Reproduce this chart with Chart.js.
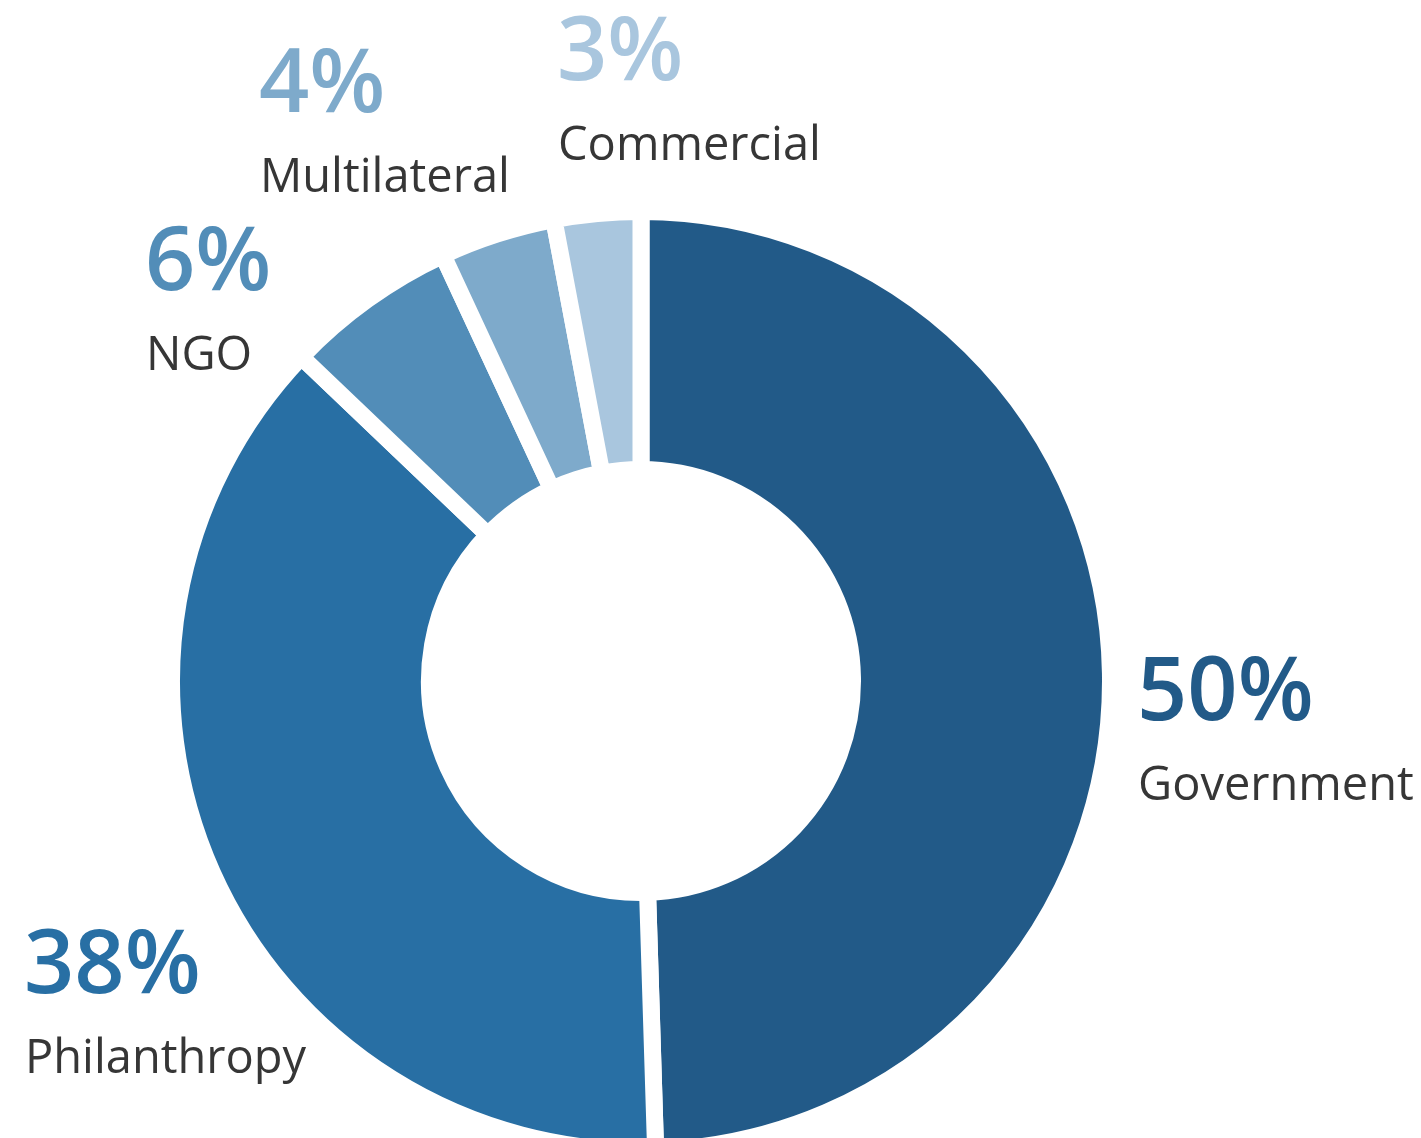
<!DOCTYPE html>
<html>
<head>
<meta charset="utf-8">
<script src="https://cdn.jsdelivr.net/npm/chart.js@4/dist/chart.umd.min.js"></script>
<style>
  body { margin: 0; background: #fff; }
  #wrap { width: 1421px; height: 1138px; position: relative; }
</style>
</head>
<body>
<div id="wrap"><canvas id="graphFinancement" width="1421" height="1138"></canvas></div>
<script>
// donnees
const categories = ["Government", "Philanthropy", "NGO", "Multilateral", "Commercial"];
const pourcentages = [50, 38, 6, 4, 3];
const couleurs = ["#225a88", "#286fa4", "#528db8", "#7eaacb", "#a9c6de"];

// position des etiquettes (decalage depuis le centre du donut, ligne de base du %)
const positionsEtiquettes = [
    [499, 39],
    [-614, 312],
    [-493, -391],
    [-379, -569],
    [-81, -601]
];

const etiquettesPlugin = {
    id: 'etiquettes',
    afterDraw(chart) {
        const ctx = chart.ctx;
        const arc = chart.getDatasetMeta(0).data[0];
        const cx = arc.x;
        const cy = arc.y;
        ctx.save();
        ctx.textAlign = 'left';
        ctx.textBaseline = 'alphabetic';
        categories.forEach((nom, i) => {
            const x = cx + positionsEtiquettes[i][0];
            const y = cy + positionsEtiquettes[i][1];
            ctx.fillStyle = couleurs[i];
            ctx.font = '600 88px "Open Sans"';
            ctx.fillText(pourcentages[i] + '%', x - 3, y);
            ctx.fillStyle = '#363636';
            ctx.font = '47px "Open Sans"';
            ctx.fillText(nom, x - 2, y + 80);
        });
        ctx.restore();
    }
};

const ctxFin = document.getElementById('graphFinancement').getContext('2d');
new Chart(ctxFin, {
    type: 'doughnut',
    data: {
        labels: categories,
        datasets: [{
            data: pourcentages,
            backgroundColor: couleurs,
            borderColor: '#ffffff',
            borderWidth: 17,
            hoverOffset: 0
        }]
    },
    options: {
        responsive: false,
        animation: false,
        radius: 469.5,
        cutout: '45.05%',
        layout: { padding: { left: 0, right: 139, top: 224, bottom: 0 } },
        plugins: {
            legend: { display: false },
            tooltip: { enabled: false }
        }
    },
    plugins: [etiquettesPlugin]
});
</script>
</body>
</html>
